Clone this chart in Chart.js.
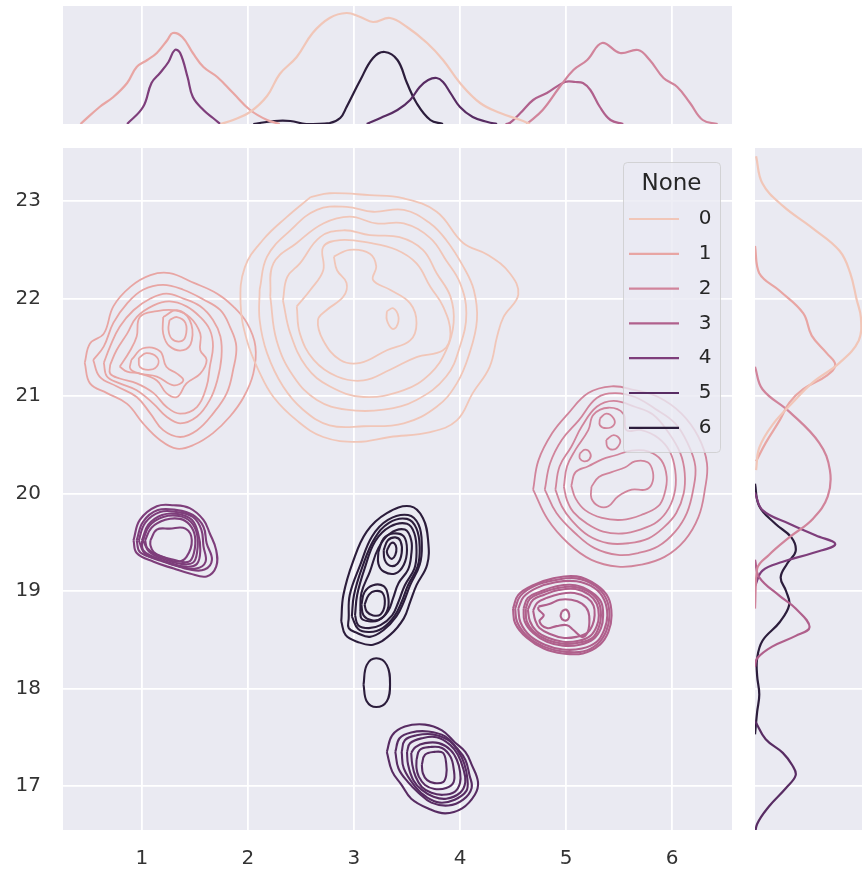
<!DOCTYPE html>
<html>
<head>
<meta charset="utf-8">
<script src="https://cdn.jsdelivr.net/npm/chart.js@4.4.0/dist/chart.umd.min.js"></script>
<style>
body{margin:0;background:#fff;width:862px;height:878px;overflow:hidden;position:relative}
.box{position:absolute}
#top{left:0;top:0}
#main{left:0;top:140px}
#side{left:740px;top:140px}
</style>
</head>
<body>
<div class="box" id="top"><canvas id="cTop" width="740" height="130"></canvas></div>
<div class="box" id="main"><canvas id="cMain" width="740" height="738"></canvas></div>
<div class="box" id="side"><canvas id="cSide" width="122" height="738"></canvas></div>
<script>
// hue levels and axes
const hues = ['0','1','2','3','4','5','6'];
const hueTitle = 'None';
const xTicks = [1,2,3,4,5,6];
const yTicks = [17,18,19,20,21,22,23];
const xRange = [0.255, 6.566];
const yRange = [16.549, 23.544];

// kde contour lines, one list of closed rings per hue level (x, y)
const rings0 = [
 [[2.59,23.04],[2.77,23.08],[3.15,23.06],[3.46,23.03],[3.78,22.89],[4.03,22.57],[4.26,22.45],[4.47,22.26],[4.55,22.04],[4.41,21.81],[4.35,21.61],[4.28,21.30],[4.12,21.03],[3.97,20.75],[3.72,20.63],[3.34,20.58],[3.03,20.53],[2.71,20.58],[2.46,20.75],[2.24,20.99],[2.11,21.24],[1.99,21.57],[1.93,21.95],[1.97,22.32],[2.14,22.60],[2.37,22.84]],
 [[2.11,22.09],[2.18,22.43],[2.40,22.70],[2.65,22.91],[2.93,22.94],[3.18,22.89],[3.47,22.91],[3.72,22.77],[3.87,22.60],[4.03,22.33],[4.13,22.09],[4.16,21.78],[4.09,21.44],[3.97,21.13],[3.78,20.89],[3.47,20.72],[3.09,20.69],[2.77,20.70],[2.52,20.86],[2.33,21.10],[2.18,21.44],[2.11,21.78]],
 [[2.21,22.02],[2.24,22.36],[2.46,22.57],[2.71,22.77],[2.96,22.84],[3.21,22.77],[3.47,22.77],[3.72,22.62],[3.87,22.39],[4.00,22.16],[4.06,21.85],[4.00,21.51],[3.87,21.20],[3.59,20.96],[3.28,20.86],[2.93,20.86],[2.65,20.96],[2.43,21.20],[2.27,21.57]],
 [[2.33,21.98],[2.37,22.22],[2.49,22.36],[2.68,22.63],[2.90,22.70],[3.15,22.65],[3.43,22.63],[3.65,22.50],[3.78,22.26],[3.91,22.02],[3.94,21.75],[3.87,21.47],[3.72,21.23],[3.47,21.06],[3.09,20.99],[2.77,21.10],[2.55,21.30],[2.40,21.64]],
 [[2.46,21.92],[2.59,22.09],[2.71,22.29],[2.71,22.53],[2.87,22.60],[3.15,22.57],[3.40,22.50],[3.59,22.36],[3.72,22.12],[3.84,21.92],[3.91,21.64],[3.84,21.47],[3.59,21.40],[3.34,21.27],[3.09,21.16],[2.84,21.20],[2.62,21.37],[2.49,21.64]],
 [[2.81,22.43],[2.96,22.50],[3.15,22.46],[3.21,22.33],[3.18,22.19],[3.34,22.09],[3.53,21.95],[3.59,21.75],[3.53,21.57],[3.31,21.47],[3.06,21.34],[2.87,21.37],[2.71,21.57],[2.66,21.78],[2.74,21.88],[2.90,22.02],[2.93,22.16],[2.84,22.29]],
 [[3.31,21.87],[3.37,21.90],[3.42,21.81],[3.40,21.71],[3.36,21.69],[3.31,21.78]]
];
const rings1 = [
 [[0.46,21.34],[0.51,21.54],[0.64,21.64],[0.73,21.92],[0.89,22.12],[1.08,22.24],[1.26,22.26],[1.49,22.16],[1.71,22.05],[1.86,21.92],[1.99,21.75],[2.07,21.51],[2.05,21.23],[1.96,20.99],[1.83,20.79],[1.67,20.62],[1.49,20.50],[1.33,20.46],[1.17,20.55],[1.01,20.72],[0.86,20.92],[0.67,21.03],[0.51,21.13]],
 [[0.54,21.37],[0.64,21.51],[0.73,21.75],[0.86,21.95],[1.01,22.09],[1.20,22.14],[1.39,22.09],[1.58,21.99],[1.74,21.88],[1.83,21.71],[1.89,21.51],[1.86,21.27],[1.80,21.03],[1.67,20.82],[1.52,20.65],[1.36,20.58],[1.20,20.65],[1.08,20.82],[0.95,20.99],[0.76,21.10],[0.60,21.20]],
 [[0.64,21.34],[0.70,21.51],[0.79,21.71],[0.92,21.88],[1.08,22.00],[1.23,22.05],[1.39,22.00],[1.55,21.92],[1.67,21.78],[1.74,21.61],[1.75,21.40],[1.71,21.16],[1.64,20.96],[1.52,20.79],[1.36,20.72],[1.23,20.79],[1.11,20.92],[0.95,21.06],[0.79,21.13],[0.67,21.20]],
 [[0.70,21.32],[0.76,21.47],[0.86,21.64],[0.95,21.81],[1.11,21.93],[1.26,21.97],[1.42,21.92],[1.55,21.81],[1.64,21.68],[1.67,21.51],[1.64,21.30],[1.61,21.10],[1.52,20.89],[1.36,20.82],[1.23,20.89],[1.11,21.03],[0.95,21.13],[0.79,21.18],[0.70,21.23]],
 [[0.79,21.30],[0.89,21.47],[0.95,21.61],[0.98,21.81],[1.14,21.87],[1.30,21.88],[1.45,21.81],[1.55,21.64],[1.55,21.47],[1.61,21.37],[1.55,21.23],[1.42,21.13],[1.33,20.99],[1.23,21.03],[1.14,21.16],[0.98,21.23],[0.86,21.25]],
 [[1.20,21.81],[1.33,21.88],[1.45,21.78],[1.47,21.57],[1.39,21.47],[1.26,21.51],[1.20,21.64]],
 [[1.26,21.78],[1.33,21.81],[1.41,21.75],[1.41,21.61],[1.36,21.56],[1.28,21.59],[1.25,21.68]],
 [[0.90,21.37],[1.01,21.49],[1.17,21.46],[1.23,21.30],[1.33,21.23],[1.39,21.16],[1.30,21.11],[1.14,21.20],[0.98,21.23],[0.89,21.28]],
 [[0.97,21.39],[1.04,21.44],[1.14,21.40],[1.15,21.32],[1.08,21.27],[0.98,21.30]]
];
const rings2 = [
 [[4.69,20.04],[4.74,20.34],[4.87,20.62],[5.02,20.82],[5.21,21.03],[5.43,21.10],[5.65,21.06],[5.87,20.99],[6.09,20.82],[6.25,20.58],[6.33,20.31],[6.31,20.04],[6.25,19.76],[6.12,19.52],[5.93,19.35],[5.71,19.27],[5.49,19.25],[5.24,19.32],[5.02,19.49],[4.83,19.73]],
 [[4.80,20.04],[4.85,20.31],[4.96,20.55],[5.12,20.75],[5.29,20.98],[5.46,21.03],[5.65,20.99],[5.84,20.87],[6.03,20.72],[6.15,20.51],[6.22,20.28],[6.20,20.04],[6.14,19.80],[6.03,19.61],[5.87,19.46],[5.68,19.39],[5.49,19.37],[5.27,19.44],[5.09,19.59],[4.91,19.80]],
 [[4.90,20.04],[4.94,20.28],[5.05,20.48],[5.15,20.69],[5.29,20.89],[5.45,20.95],[5.65,20.89],[5.82,20.81],[5.97,20.62],[6.08,20.41],[6.12,20.21],[6.11,20.00],[6.04,19.80],[5.93,19.66],[5.78,19.54],[5.59,19.49],[5.40,19.49],[5.21,19.57],[5.05,19.73],[4.96,19.87]],
 [[4.98,20.07],[5.01,20.28],[5.09,20.45],[5.21,20.65],[5.26,20.81],[5.40,20.88],[5.54,20.82],[5.57,20.65],[5.71,20.65],[5.87,20.57],[5.98,20.43],[6.03,20.24],[6.03,20.04],[5.97,19.85],[5.86,19.71],[5.70,19.63],[5.53,19.59],[5.35,19.61],[5.20,19.69],[5.07,19.81],[5.01,19.93]],
 [[5.05,20.08],[5.09,20.22],[5.21,20.28],[5.34,20.35],[5.46,20.39],[5.62,20.44],[5.78,20.43],[5.90,20.34],[5.95,20.17],[5.93,20.00],[5.87,19.87],[5.71,19.78],[5.53,19.73],[5.34,19.75],[5.18,19.83],[5.09,19.95]],
 [[5.24,20.07],[5.31,20.17],[5.43,20.22],[5.56,20.27],[5.65,20.33],[5.77,20.32],[5.82,20.22],[5.81,20.10],[5.75,20.04],[5.62,20.04],[5.49,19.97],[5.40,19.87],[5.31,19.87],[5.24,19.95]],
 [[5.32,20.77],[5.38,20.82],[5.45,20.77],[5.45,20.70],[5.38,20.67],[5.32,20.70]],
 [[5.38,20.55],[5.45,20.60],[5.51,20.55],[5.49,20.48],[5.44,20.45],[5.39,20.48]],
 [[5.13,20.41],[5.18,20.45],[5.23,20.41],[5.22,20.35],[5.17,20.33],[5.13,20.36]]
];
const rings3 = [
 [[4.50,18.82],[4.55,18.96],[4.69,19.06],[4.88,19.13],[5.10,19.15],[5.29,19.06],[5.40,18.93],[5.43,18.75],[5.40,18.58],[5.32,18.45],[5.16,18.36],[4.97,18.36],[4.79,18.41],[4.63,18.52],[4.52,18.67]],
 [[4.52,18.82],[4.57,18.95],[4.70,19.05],[4.89,19.11],[5.10,19.13],[5.28,19.05],[5.38,18.92],[5.41,18.75],[5.38,18.59],[5.30,18.46],[5.16,18.38],[4.97,18.38],[4.79,18.43],[4.64,18.53],[4.54,18.68]],
 [[4.55,18.82],[4.60,18.94],[4.72,19.03],[4.90,19.09],[5.10,19.10],[5.27,19.03],[5.36,18.91],[5.39,18.75],[5.36,18.60],[5.29,18.48],[5.15,18.41],[4.97,18.40],[4.80,18.45],[4.66,18.54],[4.57,18.68]],
 [[4.60,18.82],[4.64,18.93],[4.75,18.99],[4.91,19.05],[5.09,19.06],[5.24,18.99],[5.33,18.89],[5.35,18.75],[5.33,18.62],[5.26,18.51],[5.13,18.45],[4.97,18.44],[4.82,18.48],[4.69,18.57],[4.61,18.69]],
 [[4.62,18.82],[4.66,18.92],[4.77,18.98],[4.92,19.03],[5.09,19.04],[5.23,18.98],[5.31,18.88],[5.33,18.75],[5.31,18.63],[5.25,18.52],[5.12,18.47],[4.97,18.46],[4.82,18.50],[4.70,18.58],[4.63,18.69]],
 [[4.64,18.81],[4.69,18.91],[4.79,18.96],[4.93,19.01],[5.09,19.02],[5.22,18.96],[5.29,18.87],[5.31,18.75],[5.29,18.64],[5.23,18.54],[5.12,18.49],[4.97,18.48],[4.83,18.52],[4.72,18.59],[4.66,18.69]],
 [[4.69,18.80],[4.73,18.88],[4.82,18.93],[4.94,18.97],[5.08,18.98],[5.20,18.93],[5.26,18.85],[5.27,18.75],[5.25,18.65],[5.20,18.57],[5.10,18.53],[4.97,18.52],[4.85,18.56],[4.75,18.62],[4.71,18.70]],
 [[4.74,18.84],[4.85,18.87],[4.94,18.91],[5.05,18.91],[5.15,18.87],[5.21,18.79],[5.22,18.67],[5.20,18.57],[5.15,18.53],[5.07,18.60],[5.01,18.65],[4.91,18.64],[4.82,18.62],[4.75,18.69],[4.79,18.75],[4.74,18.81]],
 [[4.96,18.79],[5.00,18.81],[5.03,18.76],[5.02,18.71],[4.98,18.70],[4.95,18.74]]
];
const rings4 = [
 [[0.92,19.52],[0.98,19.73],[1.14,19.87],[1.30,19.88],[1.45,19.85],[1.58,19.73],[1.64,19.59],[1.70,19.42],[1.70,19.25],[1.61,19.15],[1.45,19.18],[1.30,19.23],[1.11,19.30],[0.95,19.39]],
 [[0.95,19.52],[1.01,19.71],[1.15,19.83],[1.33,19.83],[1.48,19.78],[1.58,19.66],[1.61,19.49],[1.66,19.32],[1.59,19.22],[1.45,19.22],[1.30,19.27],[1.11,19.34],[0.98,19.40]],
 [[0.97,19.52],[1.03,19.70],[1.17,19.81],[1.33,19.81],[1.48,19.76],[1.56,19.63],[1.58,19.46],[1.60,19.30],[1.51,19.23],[1.36,19.25],[1.18,19.31],[1.03,19.38]],
 [[1.00,19.52],[1.06,19.68],[1.19,19.78],[1.34,19.79],[1.47,19.73],[1.53,19.59],[1.55,19.42],[1.52,19.28],[1.42,19.25],[1.26,19.29],[1.09,19.36],[1.01,19.42]],
 [[1.01,19.52],[1.07,19.67],[1.20,19.76],[1.35,19.77],[1.46,19.71],[1.52,19.58],[1.52,19.40],[1.48,19.29],[1.36,19.28],[1.20,19.33],[1.07,19.40]],
 [[1.03,19.52],[1.09,19.65],[1.22,19.73],[1.36,19.74],[1.45,19.68],[1.50,19.56],[1.49,19.39],[1.44,19.30],[1.30,19.32],[1.14,19.37],[1.05,19.44]],
 [[1.08,19.52],[1.14,19.63],[1.26,19.64],[1.41,19.64],[1.47,19.52],[1.42,19.35],[1.33,19.30],[1.20,19.35],[1.11,19.40],[1.08,19.47]]
];
const rings5 = [
 [[3.31,17.35],[3.36,17.52],[3.48,17.61],[3.67,17.63],[3.83,17.57],[3.95,17.45],[4.05,17.35],[4.11,17.22],[4.17,17.04],[4.14,16.91],[4.02,16.77],[3.86,16.72],[3.70,16.77],[3.54,16.87],[3.45,17.01],[3.36,17.15]],
 [[3.39,17.35],[3.43,17.49],[3.54,17.55],[3.70,17.56],[3.86,17.51],[3.97,17.39],[4.05,17.27],[4.09,17.11],[4.11,16.98],[4.03,16.86],[3.89,16.80],[3.73,16.83],[3.61,16.93],[3.51,17.04],[3.42,17.18]],
 [[3.45,17.35],[3.48,17.47],[3.59,17.52],[3.74,17.53],[3.89,17.47],[3.98,17.36],[4.04,17.23],[4.07,17.07],[4.06,16.95],[3.95,16.86],[3.81,16.83],[3.68,16.89],[3.58,16.99],[3.47,17.18]],
 [[3.50,17.35],[3.53,17.44],[3.64,17.49],[3.78,17.50],[3.91,17.42],[3.98,17.32],[4.03,17.18],[4.05,17.04],[4.00,16.93],[3.87,16.87],[3.75,16.89],[3.64,16.96],[3.56,17.06],[3.51,17.22]],
 [[3.54,17.34],[3.58,17.40],[3.67,17.44],[3.80,17.44],[3.91,17.37],[3.97,17.27],[4.00,17.15],[4.00,17.03],[3.95,16.94],[3.84,16.91],[3.73,16.93],[3.64,16.99],[3.58,17.10],[3.55,17.22]],
 [[3.59,17.27],[3.62,17.37],[3.72,17.40],[3.83,17.39],[3.91,17.30],[3.94,17.18],[3.94,17.04],[3.87,16.98],[3.76,16.97],[3.67,17.01],[3.61,17.10],[3.59,17.18]],
 [[3.64,17.22],[3.67,17.32],[3.76,17.35],[3.84,17.34],[3.87,17.23],[3.87,17.11],[3.84,17.04],[3.76,17.03],[3.69,17.06],[3.65,17.13]]
];
const rings6 = [
 [[2.88,18.69],[2.90,18.96],[2.99,19.30],[3.12,19.61],[3.31,19.80],[3.53,19.87],[3.65,19.75],[3.70,19.51],[3.69,19.27],[3.59,19.06],[3.53,18.89],[3.47,18.72],[3.34,18.55],[3.18,18.45],[3.03,18.48],[2.92,18.55]],
 [[2.95,18.72],[2.96,18.96],[3.06,19.27],[3.17,19.56],[3.32,19.73],[3.51,19.78],[3.61,19.68],[3.64,19.47],[3.62,19.27],[3.53,19.06],[3.47,18.89],[3.40,18.74],[3.28,18.60],[3.15,18.53],[3.03,18.57],[2.95,18.62]],
 [[2.98,18.74],[3.00,18.96],[3.08,19.25],[3.19,19.53],[3.33,19.70],[3.50,19.74],[3.59,19.64],[3.62,19.44],[3.60,19.25],[3.51,19.06],[3.45,18.89],[3.38,18.74],[3.27,18.62],[3.15,18.58],[3.04,18.61]],
 [[3.01,18.75],[3.03,18.96],[3.10,19.23],[3.20,19.51],[3.34,19.66],[3.50,19.69],[3.57,19.59],[3.59,19.40],[3.57,19.23],[3.48,19.06],[3.42,18.89],[3.36,18.75],[3.25,18.65],[3.14,18.62],[3.04,18.65]],
 [[3.06,18.79],[3.07,18.98],[3.15,19.20],[3.23,19.44],[3.34,19.59],[3.48,19.63],[3.54,19.52],[3.54,19.37],[3.51,19.22],[3.42,19.08],[3.37,18.93],[3.32,18.79],[3.23,18.70],[3.14,18.69],[3.07,18.72]],
 [[3.23,19.40],[3.28,19.54],[3.37,19.59],[3.47,19.56],[3.50,19.42],[3.47,19.27],[3.39,19.18],[3.28,19.20],[3.23,19.28]],
 [[3.07,18.86],[3.10,18.99],[3.18,19.06],[3.28,19.05],[3.32,18.96],[3.32,18.82],[3.26,18.72],[3.17,18.70],[3.09,18.75]],
 [[3.28,19.42],[3.32,19.52],[3.39,19.55],[3.44,19.51],[3.45,19.39],[3.41,19.28],[3.34,19.26],[3.29,19.32]],
 [[3.10,18.86],[3.14,18.96],[3.20,19.00],[3.27,18.98],[3.29,18.86],[3.25,18.76],[3.18,18.75],[3.12,18.79]],
 [[3.32,19.44],[3.35,19.49],[3.38,19.49],[3.40,19.44],[3.39,19.37],[3.36,19.33],[3.33,19.35],[3.31,19.40]],
 [[3.09,18.04],[3.12,18.24],[3.21,18.31],[3.31,18.24],[3.34,18.04],[3.31,17.87],[3.21,17.81],[3.12,17.87]]
];
const rings = [rings0, rings1, rings2, rings3, rings4, rings5, rings6];

// marginal density along x (x, density)
const topDens0 = [[1.74,0],[1.86,0.04],[2.02,0.12],[2.18,0.28],[2.30,0.50],[2.46,0.67],[2.61,0.91],[2.77,1.06],[2.93,1.11],[3.06,1.07],[3.18,1.02],[3.34,1.06],[3.50,0.97],[3.69,0.81],[3.84,0.64],[4.00,0.41],[4.19,0.21],[4.38,0.11],[4.57,0.04],[4.66,0]];
const topDens1 = [[0.42,0],[0.60,0.17],[0.73,0.27],[0.86,0.41],[0.95,0.57],[1.05,0.64],[1.14,0.71],[1.24,0.84],[1.29,0.91],[1.38,0.87],[1.48,0.71],[1.58,0.57],[1.71,0.47],[1.86,0.31],[2.02,0.14],[2.18,0.04],[2.30,0]];
const topDens2 = [[4.63,0],[4.78,0.14],[4.94,0.37],[5.07,0.54],[5.20,0.64],[5.34,0.81],[5.51,0.71],[5.68,0.74],[5.79,0.64],[5.92,0.46],[6.05,0.37],[6.17,0.21],[6.29,0.04],[6.43,0]];
const topDens3 = [[4.43,0],[4.47,0.01],[4.57,0.11],[4.69,0.24],[4.82,0.31],[4.99,0.42],[5.09,0.42],[5.16,0.41],[5.23,0.34],[5.32,0.17],[5.42,0.04],[5.54,0]];
const topDens4 = [[0.86,0],[1.01,0.17],[1.09,0.41],[1.17,0.51],[1.25,0.62],[1.31,0.74],[1.36,0.71],[1.43,0.47],[1.48,0.27],[1.58,0.14],[1.67,0.06],[1.74,0]];
const topDens5 = [[3.12,0],[3.25,0.06],[3.41,0.14],[3.53,0.24],[3.62,0.37],[3.70,0.44],[3.78,0.46],[3.84,0.42],[3.91,0.31],[4.00,0.17],[4.12,0.07],[4.26,0.02],[4.35,0]];
const topDens6 = [[2.05,0],[2.25,0.03],[2.40,0.03],[2.55,0],[2.77,0.01],[2.87,0.06],[2.93,0.17],[3.06,0.44],[3.18,0.66],[3.29,0.72],[3.41,0.64],[3.50,0.41],[3.59,0.21],[3.72,0.04],[3.84,0]];
const topDens = [topDens0, topDens1, topDens2, topDens3, topDens4, topDens5, topDens6];

// marginal density along y (density, y)
const sideDens0 = [[0.01,23.46],[0.07,23.18],[0.26,22.95],[0.54,22.72],[0.79,22.49],[0.89,22.26],[0.95,21.99],[0.99,21.80],[0.97,21.57],[0.79,21.34],[0.54,21.14],[0.35,20.93],[0.16,20.70],[0.04,20.47],[0.01,20.24]];
const sideDens1 = [[0,22.54],[0.04,22.26],[0.23,22.08],[0.45,21.85],[0.53,21.62],[0.67,21.44],[0.75,21.32],[0.67,21.21],[0.45,21.07],[0.32,20.93],[0.23,20.75],[0.10,20.52],[0.01,20.33]];
const sideDens2 = [[0,21.30],[0.07,21.07],[0.32,20.84],[0.60,20.52],[0.70,20.24],[0.68,19.97],[0.54,19.74],[0.32,19.55],[0.13,19.37],[0.02,19.23],[0,18.82]];
const sideDens3 = [[0,19.32],[0.04,19.14],[0.23,18.95],[0.38,18.82],[0.51,18.63],[0.38,18.54],[0.16,18.43],[0.02,18.31],[0,18.22]];
const sideDens4 = [[0,20.01],[0.07,19.83],[0.32,19.69],[0.57,19.57],[0.75,19.48],[0.54,19.39],[0.26,19.30],[0.07,19.21],[0,19.05]];
const sideDens5 = [[0,17.67],[0.10,17.48],[0.26,17.34],[0.35,17.21],[0.38,17.11],[0.29,16.98],[0.13,16.79],[0.02,16.61],[0,16.47]];
const sideDens6 = [[0,20.10],[0.04,19.87],[0.19,19.69],[0.34,19.55],[0.38,19.41],[0.30,19.28],[0.24,19.14],[0.29,19.00],[0.32,18.86],[0.23,18.68],[0.07,18.49],[0.02,18.31],[0.02,18.13],[0.04,17.94],[0.02,17.76],[0,17.53]];
const sideDens = [sideDens0, sideDens1, sideDens2, sideDens3, sideDens4, sideDens5, sideDens6];

const colors = ['#f1c6b8','#e8a5a3','#d1849b','#b0608c','#7e3e7b','#582c63','#2c1d3c'];
const ringWidth = [1.8, 1.8, 1.8, 2.1, 2.1, 2.1, 2.1];
const BG = '#eaeaf2';
Chart.defaults.font.family = 'DejaVu Sans';
Chart.defaults.animation = false;

const panelBg = {
  id: 'panelBg',
  beforeDraw(chart) {
    const a = chart.chartArea, ctx = chart.ctx;
    ctx.save();
    ctx.fillStyle = BG;
    ctx.fillRect(a.left, a.top, a.right - a.left, a.bottom - a.top);
    ctx.restore();
  }
};

const legendBox = {
  id: 'legendBox',
  afterDatasetsDraw(chart) {
    const ctx = chart.ctx, a = chart.chartArea;
    const w = 97, h = 290, x = a.right - 12 - w, y = a.top + 14;
    ctx.save();
    ctx.fillStyle = 'rgba(234,234,242,0.8)';
    ctx.strokeStyle = 'rgba(204,204,204,0.8)';
    ctx.lineWidth = 1;
    ctx.beginPath();
    ctx.roundRect(x + 0.5, y + 0.5, w, h, 4);
    ctx.fill();
    ctx.stroke();
    ctx.fillStyle = '#262626';
    ctx.textAlign = 'center';
    ctx.textBaseline = 'middle';
    ctx.font = '23px "DejaVu Sans"';
    ctx.fillText(hueTitle, x + w / 2, y + 22);
    ctx.font = '20px "DejaVu Sans"';
    hues.forEach((lab, i) => {
      const yy = y + 57 + i * 34.8;
      ctx.strokeStyle = colors[i];
      ctx.lineWidth = 2.2;
      ctx.beginPath();
      ctx.moveTo(x + 6, yy);
      ctx.lineTo(x + 56, yy);
      ctx.stroke();
      ctx.fillText(lab, x + 82, yy);
    });
    ctx.restore();
  }
};

function closed(r) { return r.concat([r[0]]); }
function lineSet(data, color, width) {
  return {data: data, borderColor: color, borderWidth: width, showLine: true,
          pointRadius: 0, tension: 0.4, fill: false};
}
function noPad(s) { s.paddingTop = 0; s.paddingBottom = 0; s.paddingLeft = 0; s.paddingRight = 0; }

const gridOpts = {color: '#ffffff', lineWidth: 1.8, drawTicks: false};
const tickFont = {size: 20, family: 'DejaVu Sans'};

// main joint panel
const mainSets = [];
rings.forEach((group, g) => {
  group.forEach(r => mainSets.push(lineSet(closed(r), colors[g], ringWidth[g])));
});

new Chart(document.getElementById('cMain'), {
  type: 'scatter',
  data: {datasets: mainSets},
  options: {
    responsive: false,
    layout: {padding: {top: 8, right: 8, left: 0, bottom: 0}},
    plugins: {legend: {display: false}, tooltip: {enabled: false}},
    scales: {
      x: {type: 'linear', min: xRange[0], max: xRange[1],
          afterBuildTicks: s => { s.ticks = xTicks.map(v => ({value: v})); },
          afterFit: s => { s.height = 48; noPad(s); },
          grid: gridOpts, border: {display: false},
          ticks: {padding: 17, font: tickFont, color: '#333'}},
      y: {type: 'linear', min: yRange[0], max: yRange[1],
          afterBuildTicks: s => { s.ticks = yTicks.map(v => ({value: v})); },
          afterFit: s => { s.width = 63; noPad(s); },
          grid: gridOpts, border: {display: false},
          ticks: {padding: 22, font: tickFont, color: '#333'}}
    }
  },
  plugins: [panelBg, legendBox]
});

// top marginal
new Chart(document.getElementById('cTop'), {
  type: 'scatter',
  data: {datasets: topDens.map((d, g) => lineSet(d, colors[g], 2.2))},
  options: {
    responsive: false,
    layout: {padding: {top: 6, right: 8, left: 63, bottom: 6}},
    plugins: {legend: {display: false}, tooltip: {enabled: false}},
    scales: {
      x: {type: 'linear', min: xRange[0], max: xRange[1],
          afterBuildTicks: s => { s.ticks = xTicks.map(v => ({value: v})); },
          afterFit: s => { s.height = 0; noPad(s); },
          grid: gridOpts, border: {display: false}, ticks: {display: false}},
      y: {display: false, min: 0, max: 1.18}
    }
  },
  plugins: [panelBg]
});

// right marginal
new Chart(document.getElementById('cSide'), {
  type: 'scatter',
  data: {datasets: sideDens.map((d, g) => lineSet(d, colors[g], 2.2))},
  options: {
    responsive: false,
    layout: {padding: {top: 8, right: 0, left: 15, bottom: 48}},
    plugins: {legend: {display: false}, tooltip: {enabled: false}},
    scales: {
      x: {display: false, min: 0, max: 1},
      y: {type: 'linear', min: yRange[0], max: yRange[1],
          afterBuildTicks: s => { s.ticks = yTicks.map(v => ({value: v})); },
          afterFit: s => { s.width = 0; noPad(s); },
          grid: gridOpts, border: {display: false}, ticks: {display: false}}
    }
  },
  plugins: [panelBg]
});
</script>
</body>
</html>
